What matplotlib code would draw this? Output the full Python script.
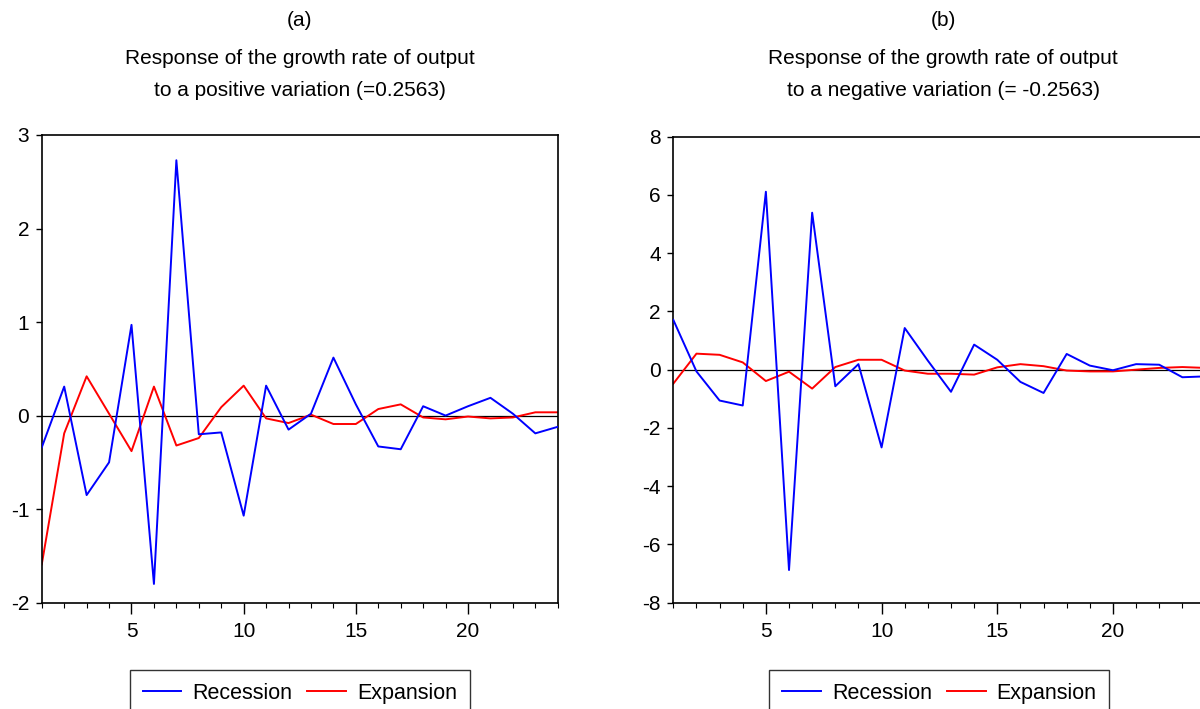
import numpy as np
import matplotlib
matplotlib.use('Agg')
import matplotlib.pyplot as plt
from matplotlib.ticker import MultipleLocator
plt.rcParams['font.family'] = ['Liberation Sans', 'DejaVu Sans']
plt.rcParams['axes.unicode_minus'] = False

periods = np.arange(1, 25)

# panel (a): positive variation
rec_pos = [-0.34, 0.31, -0.85, -0.50, 0.97, -1.80, 2.73, -0.20, -0.18, -1.07, 0.32, -0.15,
           0.02, 0.62, 0.12, -0.33, -0.36, 0.10, 0.00, 0.10, 0.19, 0.02, -0.19, -0.12]
exp_pos = [-1.59, -0.19, 0.42, 0.02, -0.38, 0.31, -0.32, -0.24, 0.09, 0.32, -0.03, -0.08,
           0.01, -0.09, -0.09, 0.07, 0.12, -0.02, -0.04, -0.01, -0.03, -0.02, 0.035, 0.035]

# panel (b): negative variation
rec_neg = [1.71, -0.06, -1.06, -1.23, 6.11, -6.88, 5.39, -0.57, 0.19, -2.67, 1.43, 0.31,
           -0.76, 0.86, 0.34, -0.42, -0.80, 0.54, 0.14, -0.02, 0.19, 0.17, -0.26, -0.23]
exp_neg = [-0.48, 0.55, 0.51, 0.25, -0.39, -0.07, -0.65, 0.09, 0.34, 0.34, -0.03, -0.14,
           -0.14, -0.17, 0.08, 0.19, 0.12, -0.03, -0.06, -0.06, 0.00, 0.06, 0.09, 0.06]

titles = [['(a)', 'Response of the growth rate of output', 'to a positive variation (=0.2563)'],
          ['(b)', 'Response of the growth rate of output', 'to a negative variation (= -0.2563)']]


def draw_panel(fig, rect, rec, exp, ylim, ystep, title_lines, cx):
    ax = fig.add_axes(rect)
    ax.axhline(0, color='black', linewidth=0.9, zorder=1)
    ax.plot(periods, rec, color='#0000ff', linewidth=1.4, label='Recession', zorder=3)
    ax.plot(periods, exp, color='#ff0000', linewidth=1.4, label='Expansion', zorder=2)
    ax.set_xlim(1, 24)
    ax.set_ylim(*ylim)
    ax.xaxis.set_major_locator(MultipleLocator(5))
    ax.xaxis.set_minor_locator(MultipleLocator(1))
    ax.yaxis.set_major_locator(MultipleLocator(ystep))
    ax.tick_params(axis='x', which='major', direction='out', length=8, width=1, pad=6, labelsize=15)
    ax.tick_params(axis='x', which='minor', direction='out', length=3.5, width=0.8)
    ax.tick_params(axis='y', which='major', direction='out', length=4, width=1, pad=5, labelsize=15)
    for sp in ax.spines.values():
        sp.set_linewidth(1.2)
        sp.set_color('black')
    leg = ax.legend(loc='upper center', bbox_to_anchor=(0.5, -0.144), ncol=2, fontsize=15.5,
                    frameon=True, fancybox=False, edgecolor='black', borderaxespad=0,
                    handlelength=1.8, handletextpad=0.5, columnspacing=0.7, borderpad=0.6)
    leg.get_frame().set_linewidth(1.0)
    for txt, y in zip(title_lines, [0.971, 0.918, 0.872]):
        fig.text(cx, y, txt, ha='center', va='center', fontsize=15)
    return ax


fig = plt.figure(figsize=(12, 7.09), dpi=100)
draw_panel(fig, [0.0348, 0.150, 0.430, 0.6596], rec_pos, exp_pos, (-2, 3), 1, titles[0], 0.250)
draw_panel(fig, [0.5611, 0.150, 0.4435, 0.6572], rec_neg, exp_neg, (-8, 8), 2, titles[1], 0.786)
plt.savefig('out.png', dpi=100)
